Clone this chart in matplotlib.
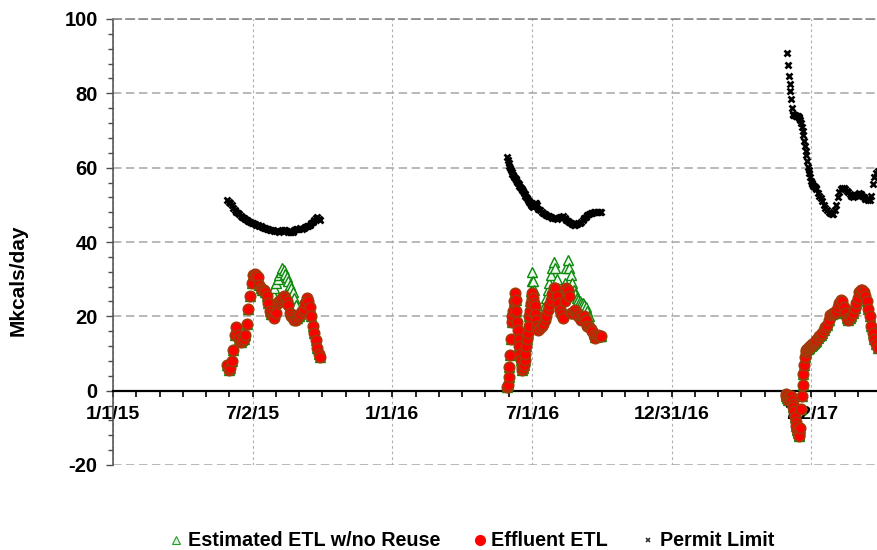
import numpy as np
import matplotlib
matplotlib.use('Agg')
import matplotlib.pyplot as plt
from matplotlib.lines import Line2D
from matplotlib.ticker import MultipleLocator, FixedLocator

plt.rcParams['font.family'] = ['Liberation Sans', 'DejaVu Sans']
plt.rcParams['font.weight'] = 'bold'
plt.rcParams['axes.unicode_minus'] = False

# x axis is days since 1/1/15, major unit half a year
x_tick_labels = ['1/1/15', '7/2/15', '1/1/16', '7/1/16', '12/31/16', '7/2/17']
series_names = ['Estimated ETL w/no Reuse', 'Effluent ETL', 'Permit Limit']

# ---- season 2015 ----
s1_start = '2015-05-30'
s1_days = list(range(0, 124, 2))
s1_est = [7, 5.5, 6, 8, 11, 15, 17, 15, 14, 13, 13.5, 14, 15, 18, 22, 25.5, 29, 31, 31.5, 31,
          30.5, 28.5, 27.5, 27, 27, 26.5, 25.5, 23.5, 21.5, 20.5, 26, 27.5, 29, 30, 31, 32, 33, 32.5,
          31.5, 30.5, 29.5, 28.5, 27.5, 26.5, 25, 23, 19.5, 20, 20.5, 21.5, 22, 23.5, 25, 24, 22.5,
          20, 17.5, 15.5, 13.5, 11.5, 10, 9]
s1_eff = [7, 5.5, 6, 8, 11, 15, 17, 15, 14, 13, 13.5, 14, 15, 18, 22, 25.5, 29, 31, 31.5, 31,
          30.5, 28.5, 27.5, 27, 27, 26.5, 25.5, 23.5, 21.5, 20.5, 20, 19.5, 21, 23.5, 24, 24.5, 25,
          25.5, 25, 24, 23, 21, 20, 19.5, 19, 19, 19.5, 20, 20.5, 21.5, 22, 23.5, 25, 24, 22.5,
          20, 17.5, 15.5, 13.5, 11.5, 10, 9]
s1_lim = [51.2, 50.8, 50.5, 50, 49.2, 48.6, 48.2, 47.8, 47.4, 47, 46.8, 46.5, 46.2, 46, 45.7,
          45.4, 45.1, 45, 44.8, 44.6, 44.5, 44.3, 44.2, 44, 43.9, 43.7, 43.6, 43.4, 43.3, 43.2,
          43.1, 43, 43, 42.9, 42.8, 42.9, 43.1, 43.3, 43.2, 43, 42.8, 42.7, 42.6, 42.8, 43.1,
          43.4, 43.5, 43.6, 43.7, 43.6, 43.7, 44, 44.2, 44.4, 44.6, 45, 45.5, 46, 46.5, 46.8,
          46.3, 46]

# ---- season 2016 ----
s2_start = '2016-05-29'
s2_days = list(range(1, 41)) + list(range(42, 125, 2))
s2_est = [1.0, 1.6, 3.8, 6.5, 9.7, 14, 18.5, 20, 21.5, 24, 26.3, 24.5, 21.5, 18.5, 16.4, 14, 12,
          10, 8.3, 6.5, 5.6, 6, 7, 8.3, 10, 12, 14, 15.5, 17.5, 20, 24, 26.8, 29.4, 32, 29.5, 27,
          24.5, 22, 20, 18,
          17.5, 18, 19, 21, 23, 25, 27, 29, 31, 33, 34.5, 33, 30, 27, 25, 23, 25, 29, 33, 35.2,
          33, 31, 29, 27, 26, 25, 24.5, 24, 23.5, 23.5, 23, 22.5, 21.5, 20, 18, 16.5, 15.5, 14.5,
          14.6, 15, 14.8, 14.6]
s2_eff = [1.0, 1.6, 3.8, 6.5, 9.7, 14, 18.5, 20, 21.5, 24, 26.3, 24.5, 21.5, 18.5, 16.4, 14, 12,
          10, 8.3, 6.5, 5.6, 6, 7, 8.3, 10, 12, 14, 15.5, 17.5, 20, 21.5, 23.6, 25, 26.3, 25,
          23.5, 22.7, 20.5, 19, 17.5,
          16.4, 16.8, 17.3, 18, 19, 20, 21.8, 23, 24.5, 26, 27.6, 27.5, 25.4, 23.5, 21.8, 20.5,
          19.5, 24, 27.6, 27, 25.4, 21, 21, 21.5, 21.8, 21, 20, 19.5, 19, 19.5, 20, 19, 17.5, 17,
          16.5, 16, 15, 14.2, 14.6, 15, 14.8, 14.6]
s2_lim = [62.8, 62, 61.3, 60.5, 59.8, 59.3, 58.8, 58.4, 58, 57.6, 57.3, 57, 56.6, 56.2, 55.9,
          55.6, 55.2, 54.9, 54.5, 54.2, 53.9, 53.6, 53.2, 52.9, 52.5, 52.2, 51.8, 51.4, 51, 50.7,
          50.4, 50, 49.8, 49.6, 49.5, 49.8, 50.2, 50.5, 50.4, 50,
          49, 48.6, 48.2, 47.8, 47.5, 47.3, 47.1, 46.9, 46.7, 46.5, 46.4, 46.4, 46.3, 46.4, 46.6,
          46.8, 46.9, 46.5, 46, 45.6, 45.3, 45, 44.8, 44.6, 44.6, 44.8, 45, 45, 45.4, 45.9, 46.4,
          46.8, 47.2, 47.5, 47.8, 47.9, 48, 48.1, 48.2, 48.2, 48.2, 48.1]

# ---- season 2017 ----
s3_start = '2017-05-29'
s3_days = list(range(0, 41)) + list(range(42, 121, 2))
s3_est = [-1, -1.5, -2, -2.4, -2, -1.5, -1.8, -1.5, -2.5, -3.5, -4.5, -5.5, -7, -8.5, -9.6,
          -10.5, -11.4, -12, -12.3, -10, -5, -1.5, 1.5, 4.5, 7, 9, 10.5, 11, 11.2, 11.3, 11.5,
          11.7, 11.9, 12.1, 12.3, 12.5, 12.6, 12.8, 13, 13.3, 13.6,
          14.2, 14.6, 15, 15.6, 16.3, 17, 17.8, 19, 20.4, 20.6, 20.8, 20.9, 21.5, 22.5, 23.6,
          24.5, 24, 22.5, 21, 19.5, 19.1, 19.5, 20, 21, 22.2, 23.5, 25, 26.5, 27.2, 27, 26.5,
          25.5, 24, 22, 20, 17.5, 15.5, 14, 12.5, 11.5]
s3_eff = [-1, -1.5, -2, -2.4, -2, -1.5, -1.8, -1.5, -2.5, -3.5, -4.5, -5.5, -7, -8.5, -9.6,
          -10.5, -11.4, -12, -12.3, -10, -5, -1.5, 1.5, 4.5, 7, 9, 10.5, 11, 11.2, 11.3, 11.5,
          11.7, 11.9, 12.1, 12.3, 12.5, 12.6, 12.8, 13, 13.3, 13.6,
          14.2, 14.6, 15, 15.6, 16.3, 17, 17.8, 19, 20.4, 20.6, 20.8, 20.9, 21.5, 22.5, 23.6,
          24.5, 24, 22.5, 21, 19.5, 19.1, 19.5, 20, 21, 22.2, 23.5, 25, 26.5, 27.2, 27, 26.5,
          25.5, 24, 22, 20, 17.5, 15.5, 14, 12.5, 11.5]
s3_lim = [np.nan, np.nan, 90.8, 87.6, 84.7, 82.5, 80.5, 78.4, 76, 74.5, 74.3, 74.2, 74.2, 74,
          74, 73.8, 73.8, 73.5, 73.3, 72.8, 72, 71, 70, 68.8, 67.2, 65.7, 64.5, 63.5, 61.8, 60.3,
          59.3, 58.6, 57.4, 56.3, 55.8, 55.5, 55.2, 55, 54.8, 54.6, 54.2,
          53.2, 52.5, 51.8, 50.9, 50, 49.2, 48.6, 48.1, 47.7, 47.5, 47.6, 48.5, 50, 52, 53.5,
          54.2, 54.4, 54.5, 54.3, 53.8, 53.4, 53, 52.5, 52.2, 52.3, 52.6, 53, 53.2, 52.9, 52.4,
          52, 51.7, 51.5, 51.4, 51.3, 52.5, 55.5, 57.5, 58.5, 59.2]

origin = np.datetime64('2015-01-01')


def to_x(start, days):
    return (np.datetime64(start) - origin).astype(float) + np.array(days, dtype=float)


x_all = np.concatenate([to_x(s1_start, s1_days), to_x(s2_start, s2_days), to_x(s3_start, s3_days)])
est_all = np.concatenate([s1_est, s2_est, s3_est])
eff_all = np.concatenate([s1_eff, s2_eff, s3_eff])
lim_all = np.concatenate([s1_lim, s2_lim, s3_lim])

fig = plt.figure(figsize=(8.78, 5.5), dpi=100)
ax = fig.add_axes([113 / 878, 85 / 550, 765 / 878, 446 / 550])

ax.plot(x_all, est_all, linestyle='none', marker='^', ms=7.5, mfc='#eef8ee', mec='#0a8a0a',
        mew=1.0, zorder=3)
ax.plot(x_all, eff_all, linestyle='none', marker='o', ms=7.5, mfc='#ff0000', mec='#a33a0a',
        mew=1.2, zorder=4)
ax.plot(x_all, lim_all, linestyle='none', marker='x', ms=5, color='black', mew=1.9, zorder=5)

half_year = 182.5
ax.set_xlim(0, 765 / 0.76528)
ax.set_ylim(-20, 100)
ax.xaxis.set_major_locator(FixedLocator([half_year * i for i in range(len(x_tick_labels))]))
ax.set_xticklabels(x_tick_labels)
ax.xaxis.set_minor_locator(MultipleLocator(half_year / 6))
ax.yaxis.set_major_locator(MultipleLocator(20))
ax.yaxis.set_minor_locator(MultipleLocator(4))

ax.set_axisbelow(True)
ax.yaxis.grid(True, which='major', linestyle=(0, (5.5, 3)), color='#a6a6a6', lw=1.1)
ax.xaxis.grid(True, which='major', linestyle=(0, (2.5, 2.5)), color='#b0b0b0', lw=0.8)

ax.spines['right'].set_visible(False)
ax.spines['top'].set_linestyle((0, (5.5, 3)))
ax.spines['top'].set_color('#808080')
ax.spines['top'].set_linewidth(1.1)
ax.spines['left'].set_color('#4d4d4d')
ax.spines['left'].set_linewidth(1.1)
ax.spines['bottom'].set_position(('data', 0))
ax.spines['bottom'].set_color('black')
ax.spines['bottom'].set_linewidth(1.6)

ax.tick_params(axis='x', which='both', direction='out', length=4, width=1.2, color='black',
               labelsize=14, pad=7)
ax.tick_params(axis='y', which='major', direction='out', length=5, width=1, color='#4d4d4d',
               labelsize=14.5, pad=6)
ax.tick_params(axis='y', which='minor', direction='out', length=3.5, width=1, color='#4d4d4d')

fig.text(18 / 878, 0.491, 'Mkcals/day', rotation=90, ha='center', va='center', fontsize=15,
         fontweight='bold')

handles = [
    Line2D([], [], linestyle='none', marker='^', ms=6, mfc='#d9f2d9', mec='#2a9a2a', mew=0.8),
    Line2D([], [], linestyle='none', marker='o', ms=7, mfc='#ff0000', mec='#ff0000'),
    Line2D([], [], linestyle='none', marker='x', ms=3.5, color='#333333', mew=1.2),
]
fig.legend(handles, series_names, loc='center', bbox_to_anchor=(472 / 878, 9 / 550), ncol=3,
           frameon=False, fontsize=14.2, handlelength=0.6, handletextpad=0.3, columnspacing=1.7,
           borderaxespad=0, borderpad=0)

fig.savefig('out.png', dpi=100)
